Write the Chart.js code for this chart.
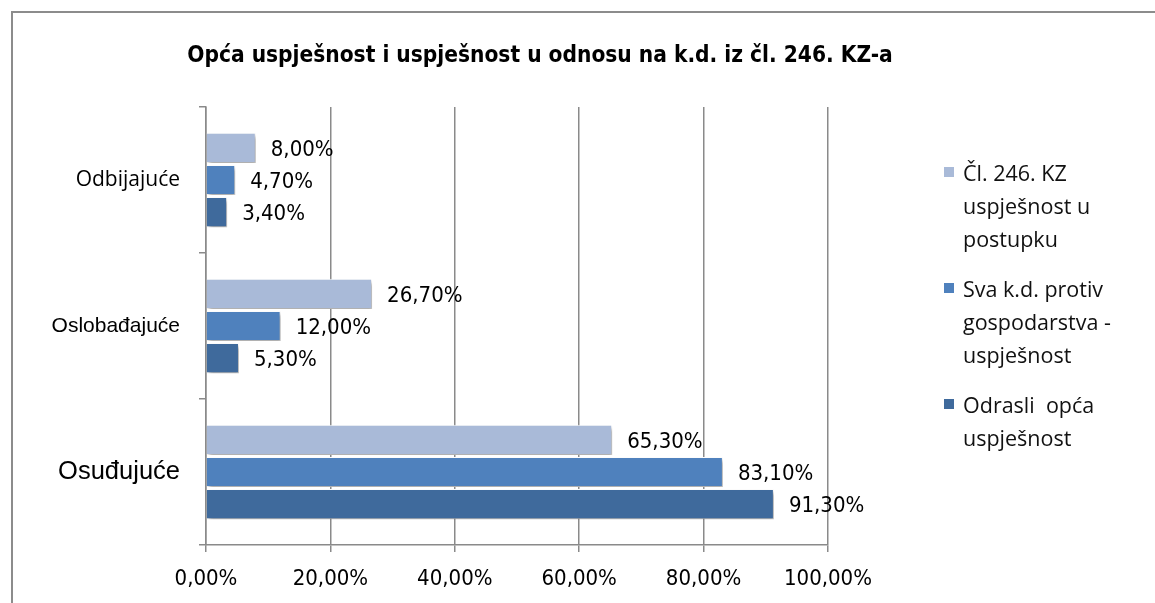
<!DOCTYPE html>
<html>
<head>
<meta charset="utf-8">
<script src="https://cdn.jsdelivr.net/npm/chart.js@4/dist/chart.umd.min.js"></script>
<style>
  body { margin: 0; background: #fff; }
  #wrap { position: relative; width: 1155px; height: 603px; overflow: hidden; }
  #frame { position: absolute; left: 11px; top: 11px; right: -10px; bottom: -10px;
           border-left: 2px solid #8c8c8c; border-top: 2px solid #8c8c8c; }
  #title { position: absolute; left: 0; width: 1080px; top: 41px; text-align: center;
           font: bold 22.5px 'DejaVu Sans Condensed', sans-serif; color: #000; }
  #legend { position: absolute; left: 944px; top: 156px; font: 21.5px 'Open Sans', sans-serif; color: #111; }
  .item { position: relative; padding-left: 19px; line-height: 33px; margin-bottom: 17px; }
  .item i { position: absolute; left: 0; top: 11px; width: 10px; height: 10px; }
</style>
</head>
<body>
<div id="wrap">
  <div id="frame"></div>
  <div id="title">Opća uspješnost i uspješnost u odnosu na k.d. iz čl. 246. KZ-a</div>
  <canvas id="c"></canvas>
  <div id="legend"></div>
</div>
<script>
// data
const categories = ['Odbijajuće', 'Oslobađajuće', 'Osuđujuće'];
const cl246 = [8.0, 26.7, 65.3];
const svaKd = [4.7, 12.0, 83.1];
const odrasli = [3.4, 5.3, 91.3];
const xTicks = [0, 20, 40, 60, 80, 100];

const seriesNames = [
  ['Čl. 246. KZ', 'uspješnost u', 'postupku'],
  ['Sva k.d. protiv', 'gospodarstva -', 'uspješnost'],
  ['Odrasli\u00a0 opća', 'uspješnost']
];
const colors = ['#a9bad8', '#4f81bd', '#3f6a9c'];

const fmt = v => v.toFixed(2).replace('.', ',') + '%';
const narrow = "'DejaVu Sans Condensed', sans-serif";

// html legend, texts wrap like in the original
let lg = document.getElementById('legend');
seriesNames.forEach((lines, i) => {
  let d = document.createElement('div');
  d.className = 'item';
  d.innerHTML = '<i style="background:' + colors[i] + '"></i>' + lines.join('<br>');
  lg.appendChild(d);
});

const shadowPlugin = {
  id: 'barShadow',
  beforeDatasetsDraw(chart) {
    const ctx = chart.ctx;
    ctx.save();
    ctx.shadowColor = 'rgba(0,0,0,0.35)';
    ctx.shadowBlur = 4;
    ctx.shadowOffsetX = 2;
    ctx.shadowOffsetY = 3;
  },
  afterDatasetsDraw(chart) {
    chart.ctx.restore();
  }
};

const valueLabels = {
  id: 'valueLabels',
  afterDraw(chart) {
    const ctx = chart.ctx;
    ctx.save();
    ctx.font = '22px ' + narrow;
    ctx.fillStyle = '#000';
    ctx.textAlign = 'left';
    ctx.textBaseline = 'middle';
    chart.data.datasets.forEach((ds, di) => {
      chart.getDatasetMeta(di).data.forEach((bar, i) => {
        ctx.fillText(fmt(ds.data[i]), bar.x + 15, bar.y + 2);
      });
    });
    ctx.restore();
  }
};

const catFonts = [
  { family: "'Open Sans', sans-serif", size: 21 },
  { family: "'Liberation Sans', Arial, sans-serif", size: 21 },
  { family: "'Liberation Sans', Arial, sans-serif", size: 25.5 }
];

new Chart(document.getElementById('c'), {
  type: 'bar',
  data: {
    labels: categories,
    datasets: [
      { label: seriesNames[0].join(' '), data: cl246, backgroundColor: colors[0] },
      { label: seriesNames[1].join(' '), data: svaKd, backgroundColor: colors[1] },
      { label: seriesNames[2].join(' '), data: odrasli, backgroundColor: colors[2] }
    ]
  },
  options: {
    indexAxis: 'y',
    responsive: true,
    maintainAspectRatio: false,
    animation: false,
    layout: { padding: { top: 107, right: 327, left: 0, bottom: 0 } },
    datasets: {
      bar: { categoryPercentage: 0.66, barPercentage: 0.94, borderColor: '#ffffff', borderWidth: 1 }
    },
    plugins: {
      legend: { display: false },
      title: { display: false },
      tooltip: { enabled: false }
    },
    scales: {
      x: {
        min: 0, max: 100,
        afterBuildTicks: s => { s.ticks = xTicks.map(v => ({ value: v })); },
        afterFit: s => { s.height = 58; },
        grid: { color: '#8a8a8a', lineWidth: 1.5, tickLength: 7 },
        border: { color: '#8a8a8a', width: 1.5 },
        ticks: { callback: v => fmt(v), color: '#000', padding: 14, font: { family: narrow, size: 22 } }
      },
      y: {
        afterFit: s => { s.width = 206; },
        grid: { drawOnChartArea: false, color: '#8a8a8a', lineWidth: 1.5, tickLength: 7 },
        border: { color: '#8a8a8a', width: 1.5 },
        ticks: {
          color: '#000',
          padding: 19,
          font: ctx => catFonts[ctx.index] || catFonts[0]
        }
      }
    }
  },
  plugins: [shadowPlugin, valueLabels]
});
</script>
</body>
</html>
